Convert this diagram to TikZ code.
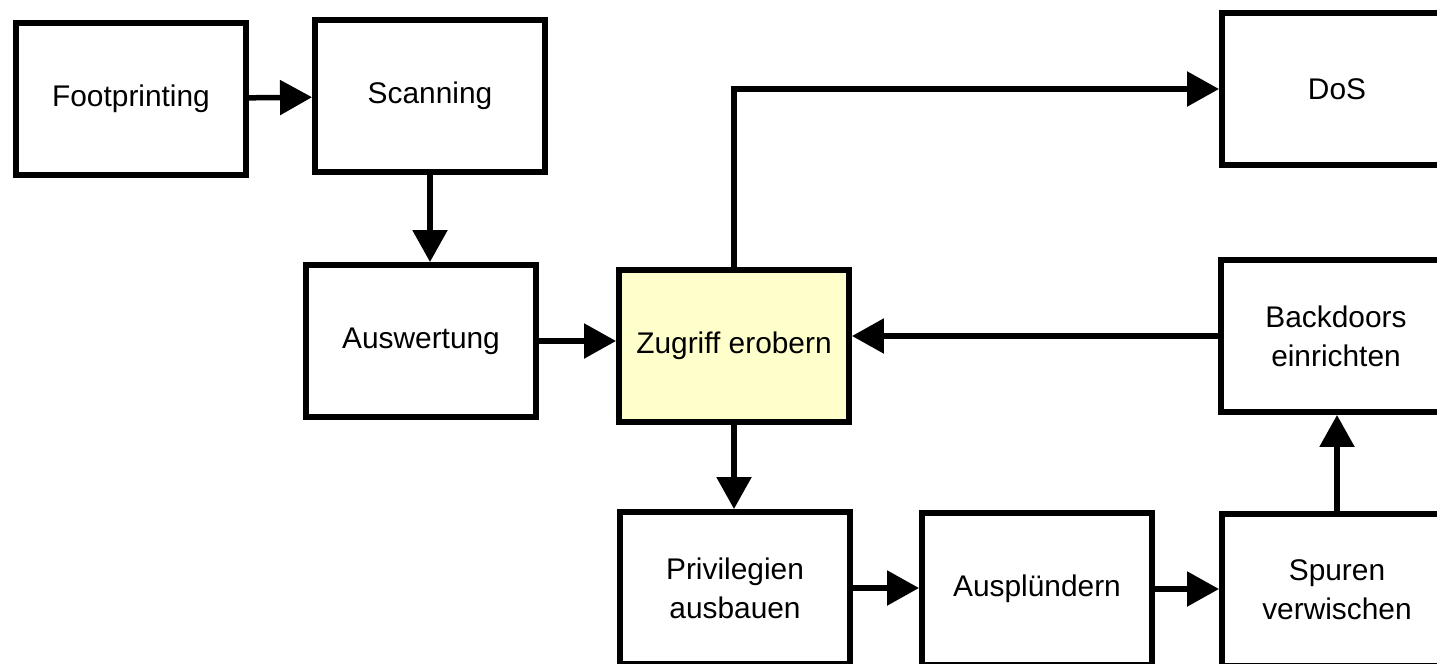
\documentclass[tikz,border=0pt]{standalone}
\usepackage{fontspec}
\setmainfont{Liberation Sans}
\usetikzlibrary{arrows.meta}
\definecolor{paleyellow}{RGB}{255,255,204}

\begin{document}
\begin{tikzpicture}[x=0.02cm, y=-0.02cm, >={Triangle[length=0.64cm, width=0.68cm]},
  every node/.style={font=\fontsize{17}{22}\selectfont},
  box/.style={draw, line width=0.12cm, minimum width=4.6cm, minimum height=3.04cm, align=center}]

  \useasboundingbox (0,0) rectangle (1437,663);
  \clip (0,0) rectangle (1437,663);

  % positions
  \node[box] (foot) at (131,99) {Footprinting};
  \node[box] (scan) at (430,96) {Scanning};
  \node[box] (ausw) at (421,341) {Auswertung};
  \node[box, fill=paleyellow] (zugr) at (734,346) {Zugriff erobern};
  \node[box] (dos) at (1337,89) {DoS};
  \node[box] (back) at (1336,336) {Backdoors\\einrichten};
  \node[box] (priv) at (735,588) {Privilegien\\ausbauen};
  \node[box] (plund) at (1037,589) {Ausplündern};
  \node[box] (spur) at (1337,590) {Spuren\\verwischen};

  % arrows
  \draw[->, line width=0.11cm] (foot) -- (scan);                        % foot -> scan
  \draw[->, line width=0.11cm] (scan.south) -- (scan.south |- ausw.north); % scan -> ausw (down)
  \draw[->, line width=0.11cm] (ausw.east) -- (ausw.east -| zugr.west);   % ausw -> zugr
  \draw[->, line width=0.11cm] (zugr.north) |- (dos.west);                % zugr -> dos (up, right)
  \draw[->, line width=0.11cm] (back.west) -- (back.west -| zugr.east);   % back -> zugr (left)
  \draw[->, line width=0.11cm] (zugr.south) -- (zugr.south |- priv.north); % zugr -> priv (down)
  \draw[->, line width=0.11cm] (priv.east) -- (priv.east -| plund.west);  % priv -> plund
  \draw[->, line width=0.11cm] (plund.east) -- (plund.east -| spur.west); % plund -> spur
  \draw[->, line width=0.11cm] (spur.north) -- (spur.north |- back.south); % spur -> back (up)

\end{tikzpicture}
\end{document}
